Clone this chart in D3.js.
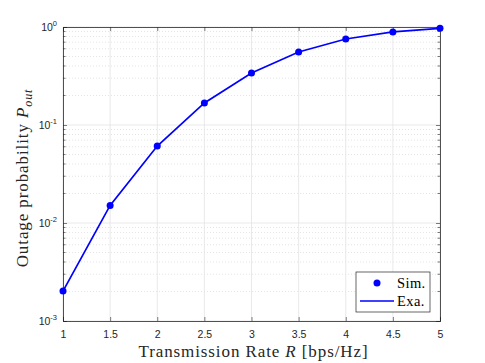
<!DOCTYPE html>
<html>
<head>
<meta charset="utf-8">
<script src="https://cdn.jsdelivr.net/npm/d3@7"></script>
<style>
  body { margin: 0; background: #fff; }
  svg text { font-family: "Liberation Sans", Arial, sans-serif; }
</style>
</head>
<body>
<svg id="chart" width="485" height="363"></svg>
<script>
// data
let rates = [1, 1.5, 2, 2.5, 3, 3.5, 4, 4.5, 5]
let simValues = [0.00202, 0.0151, 0.061, 0.168, 0.34, 0.556, 0.755, 0.89, 0.97]
let exaValues = [0.00202, 0.0151, 0.061, 0.168, 0.34, 0.556, 0.755, 0.89, 0.97]
let xTicks = [1, 1.5, 2, 2.5, 3, 3.5, 4, 4.5, 5]
let yTicks = [1e-3, 1e-2, 1e-1, 1]

let margin = { top: 27, right: 45, bottom: 42, left: 63 },
    width = 485 - margin.left - margin.right,
    height = 363 - margin.top - margin.bottom

let svg = d3.select('#chart')
    .append('g')
    .attr('transform', `translate(${margin.left}, ${margin.top})`)

let x = d3.scaleLinear().domain([1, 5]).range([0, width])
let y = d3.scaleLog().domain([1e-3, 1]).range([height, 0])

// minor log grid (dotted)
let minor = []
for (let e = -3; e < 0; e++) {
    for (let m = 2; m <= 9; m++) minor.push(m * Math.pow(10, e))
}
svg.append('g').selectAll('line').data(minor).enter().append('line')
    .attr('x1', 0).attr('x2', width)
    .attr('y1', d => y(d)).attr('y2', d => y(d))
    .attr('stroke', '#d9d9d9').attr('stroke-width', 0.7)
    .attr('stroke-dasharray', '1,2')

// major grid
svg.append('g').selectAll('line').data(yTicks).enter().append('line')
    .attr('x1', 0).attr('x2', width)
    .attr('y1', d => y(d)).attr('y2', d => y(d))
    .attr('stroke', '#e3e3e3').attr('stroke-width', 0.8)
svg.append('g').selectAll('line').data(xTicks).enter().append('line')
    .attr('y1', 0).attr('y2', height)
    .attr('x1', d => x(d)).attr('x2', d => x(d))
    .attr('stroke', '#e3e3e3').attr('stroke-width', 0.8)

// axes with inward ticks
let xAxis = svg.append('g')
    .attr('transform', `translate(0, ${height})`)
    .call(d3.axisBottom(x).tickValues(xTicks).tickSize(-4).tickPadding(10).tickFormat(d3.format('')))
let xTop = svg.append('g')
    .call(d3.axisTop(x).tickValues(xTicks).tickSize(-4).tickFormat(''))
let yAxis = svg.append('g')
    .call(d3.axisLeft(y).tickValues(yTicks).tickSize(-4).tickPadding(6).tickFormat(''))
let yRight = svg.append('g')
    .attr('transform', `translate(${width}, 0)`)
    .call(d3.axisRight(y).tickValues(yTicks).tickSize(-4).tickFormat(''))

// minor ticks on y
svg.append('g').selectAll('line').data(minor).enter().append('line')
    .attr('x1', 0).attr('x2', 2.5)
    .attr('y1', d => y(d)).attr('y2', d => y(d))
    .attr('stroke', '#262626').attr('stroke-width', 0.6)
svg.append('g').selectAll('line').data(minor).enter().append('line')
    .attr('x1', width).attr('x2', width - 2.5)
    .attr('y1', d => y(d)).attr('y2', d => y(d))
    .attr('stroke', '#262626').attr('stroke-width', 0.6)

svg.selectAll('.domain').attr('stroke', '#262626').attr('stroke-width', 0.8)
svg.selectAll('.tick line').attr('stroke', '#262626').attr('stroke-width', 0.6)
xAxis.selectAll('text').style('font-size', '10.5px').style('fill', '#262626')

// y tick labels 10^k
yTicks.forEach(function (d) {
    let t = svg.append('text')
        .attr('x', -6).attr('y', y(d) + 4)
        .attr('text-anchor', 'end')
        .style('font-size', '10.5px').style('fill', '#262626')
    t.append('tspan').text('10')
    t.append('tspan').attr('dy', -5).style('font-size', '7.5px').text(Math.round(Math.log10(d)))
})

// exact line
let line = d3.line().x((d, i) => x(rates[i])).y(d => y(d))
svg.append('path').datum(exaValues)
    .attr('fill', 'none').attr('stroke', '#0000ff').attr('stroke-width', 1.7)
    .attr('d', line)

// simulation markers
svg.selectAll('.sim').data(simValues).enter().append('circle')
    .attr('cx', (d, i) => x(rates[i])).attr('cy', d => y(d))
    .attr('r', 3.5).attr('fill', '#0000ff')

let serif = '"Liberation Serif", "Times New Roman", serif'

// legend
let lg = svg.append('g').attr('transform', `translate(${width - 84}, ${height - 49})`)
lg.append('rect').attr('width', 74).attr('height', 40)
    .attr('fill', '#fff').attr('stroke', '#262626').attr('stroke-width', 0.7)
lg.append('circle').attr('cx', 21).attr('cy', 11).attr('r', 3.5).attr('fill', '#0000ff')
lg.append('line').attr('x1', 4).attr('x2', 38).attr('y1', 29).attr('y2', 29)
    .attr('stroke', '#0000ff').attr('stroke-width', 1.7)
lg.append('text').attr('x', 41).attr('y', 16).text('Sim.')
    .style('font-family', serif).style('font-size', '14.5px').style('letter-spacing', '0.4px')
lg.append('text').attr('x', 41).attr('y', 34).text('Exa.')
    .style('font-family', serif).style('font-size', '14.5px').style('letter-spacing', '0.4px')

// axis labels
let xl = svg.append('text')
    .attr('x', width / 2 + 2).attr('y', height + 36)
    .attr('text-anchor', 'middle')
    .style('font-family', serif).style('font-size', '17px').style('letter-spacing', '0.9px')
    .style('fill', '#262626')
xl.append('tspan').text('Transmission Rate ')
xl.append('tspan').style('font-style', 'italic').text('R')
xl.append('tspan').text(' [bps/Hz]')

let yl = svg.append('text')
    .attr('transform', `translate(-35, ${height / 2 + 4}) rotate(-90)`)
    .attr('text-anchor', 'middle')
    .style('font-family', serif).style('font-size', '17px').style('letter-spacing', '0.9px')
    .style('fill', '#262626')
yl.append('tspan').text('Outage probability ')
yl.append('tspan').style('font-style', 'italic').text('P')
yl.append('tspan').attr('dy', 4).style('font-style', 'italic').style('font-size', '12px').text('out')
</script>
</body>
</html>
